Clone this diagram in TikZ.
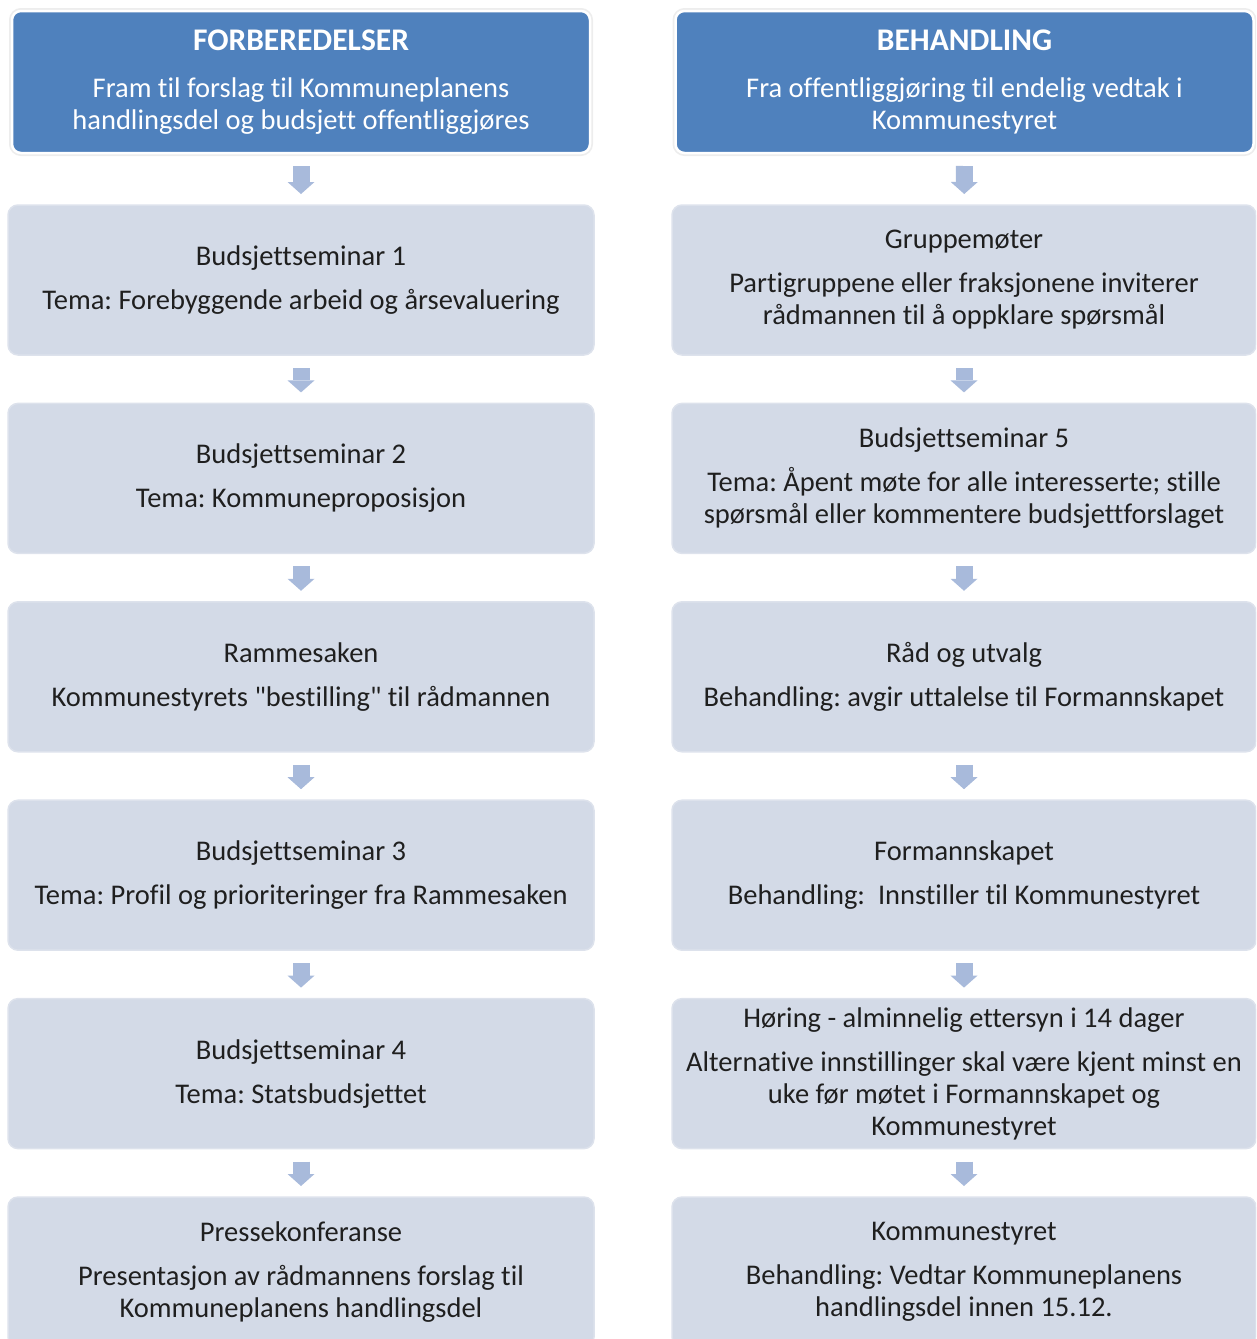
\documentclass[tikz,border=0pt]{standalone}
\usepackage{fontspec}
\setmainfont[Ligatures={NoCommon,TeXOff}]{Carlito}
\usetikzlibrary{positioning,arrows.meta}
\definecolor{headblue}{HTML}{4F81BD}
\definecolor{stepfill}{HTML}{D3DAE7}
\definecolor{stepline}{HTML}{DDE2EC}
\definecolor{arrowblue}{HTML}{A8BADB}
\frenchspacing
\begin{document}
\begin{tikzpicture}[
            x=1pt, y=-1pt,
            headbox/.style={draw=white, line width=2.5pt, rounded corners=9pt, fill=headblue,
                text=white, minimum width=578pt, minimum height=142pt, outer sep=0pt,
                align=center, font=\fontsize{28.5}{32}\selectfont,
                preaction={draw=black!7, line width=6pt}},
            stepbox/.style={draw=stepline, line width=1.5pt, rounded corners=10pt, fill=stepfill,
                text=black!88, minimum width=586pt, minimum height=150pt, outer sep=0pt,
                align=center, font=\fontsize{28.5}{32}\selectfont},
            flow/.style={draw=arrowblue, line width=17pt,
                -{Triangle[width=27pt, length=12pt, line width=0pt]},
                shorten <=13pt, shorten >=11pt}
        ]
        \clip (0,0) rectangle (1256,1339);
        % headers
        \node[headbox] (forb) at (301,82) {{\bfseries\fontsize{31.5}{32}\selectfont FORBEREDELSER}\\[15pt]
            Fram til forslag til Kommuneplanens\\handlingsdel og budsjett offentliggjøres};
        \node[headbox] (beh) at (964.5,82) {{\bfseries\fontsize{31.5}{32}\selectfont BEHANDLING}\\[15pt]
            Fra offentliggjøring til endelig vedtak i\\Kommunestyret};
        % left column
        \node[stepbox, below=52pt of forb] (l1) {Budsjettseminar 1\\[12pt]
            Tema: Forebyggende arbeid og årsevaluering};
        \node[stepbox, below=48.4pt of l1] (l2) {Budsjettseminar 2\\[12pt]
            Tema: Kommuneproposisjon};
        \node[stepbox, below=48.4pt of l2] (l3) {Rammesaken\\[12pt]
            Kommunestyrets "bestilling" til rådmannen};
        \node[stepbox, below=48.4pt of l3] (l4) {Budsjettseminar 3\\[12pt]
            Tema: Profil og prioriteringer fra Rammesaken};
        \node[stepbox, below=48.4pt of l4] (l5) {Budsjettseminar 4\\[12pt]
            Tema: Statsbudsjettet};
        \node[stepbox, below=48.4pt of l5] (l6) {Pressekonferanse\\[12pt]
            Presentasjon av rådmannens forslag til\\Kommuneplanens handlingsdel};
        % right column
        \node[stepbox, minimum width=584pt, below=52pt of beh, xshift=-0.5pt] (r1) {Gruppemøter\\[12pt]
            Partigruppene eller fraksjonene inviterer\\rådmannen til å oppklare spørsmål};
        \node[stepbox, minimum width=584pt, below=48.4pt of r1] (r2) {Budsjettseminar 5\\[12pt]
            Tema: Åpent møte for alle interesserte; stille\\spørsmål eller kommentere budsjettforslaget};
        \node[stepbox, minimum width=584pt, below=48.4pt of r2] (r3) {Råd og utvalg\\[12pt]
            Behandling: avgir uttalelse til Formannskapet};
        \node[stepbox, minimum width=584pt, below=48.4pt of r3] (r4) {Formannskapet\\[12pt]
            Behandling:\ \ Innstiller til Kommunestyret};
        \node[stepbox, minimum width=584pt, below=48.4pt of r4] (r5) {Høring - alminnelig ettersyn i 14 dager\\[12pt]
            Alternative innstillinger skal være kjent minst en\\uke før møtet i Formannskapet og\\Kommunestyret};
        \node[stepbox, minimum width=584pt, below=48.4pt of r5] (r6) {Kommunestyret\\[12pt]
            Behandling: Vedtar Kommuneplanens\\handlingsdel innen 15.12.};
        % arrows
        \draw[flow] (forb) -- (l1);
        \draw[flow] (l1) -- (l2);
        \draw[flow] (l2) -- (l3);
        \draw[flow] (l3) -- (l4);
        \draw[flow] (l4) -- (l5);
        \draw[flow] (l5) -- (l6);
        \draw[flow] (beh) -- (r1);
        \draw[flow] (r1) -- (r2);
        \draw[flow] (r2) -- (r3);
        \draw[flow] (r3) -- (r4);
        \draw[flow] (r4) -- (r5);
        \draw[flow] (r5) -- (r6);
    \end{tikzpicture}
\end{document}
